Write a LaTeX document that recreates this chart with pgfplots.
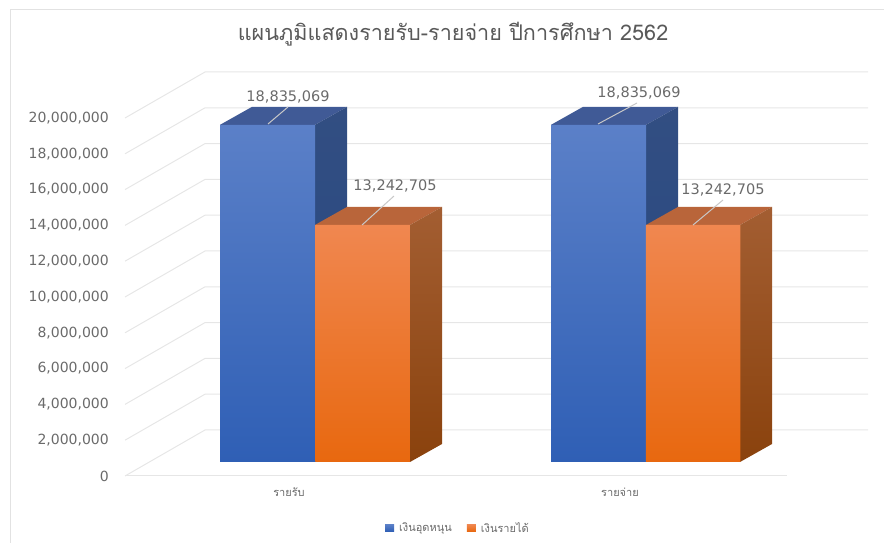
\documentclass[border=0pt]{standalone}
\usepackage{fontspec}
\usepackage{pgfplots}
\pgfplotsset{compat=1.18}
\setmainfont{DejaVu Sans}
\newfontfamily\thaifont[Script=Thai]{Loma}
\definecolor{gridc}{HTML}{E6E6E6}
\definecolor{framec}{HTML}{E2E2E2}
\definecolor{txtc}{HTML}{6A6A6A}
\definecolor{titlec}{HTML}{595959}
\definecolor{legblue}{HTML}{3F6CBE}
\definecolor{legorange}{HTML}{EE7A26}
\pgfplotsset{
  gl/.style={draw=gridc,line width=1pt,no marks,forget plot},
  bluefront/.style={ybar,bar shift=0pt,bar width=95,draw=none,
     top color={rgb,255:red,91;green,128;blue,200},middle color={rgb,255:red,64;green,110;blue,200},bottom color={rgb,255:red,47;green,95;blue,181},yshift=14pt},
  orangefront/.style={ybar,bar shift=0pt,bar width=94.5,draw=none,
     top color={rgb,255:red,240;green,135;blue,80},middle color={rgb,255:red,252;green,126;blue,42},bottom color={rgb,255:red,232;green,104;blue,15},yshift=14pt},
  blueside/.style={draw=none,no marks,forget plot,top color={rgb,255:red,50;green,78;blue,130},bottom color={rgb,255:red,38;green,72;blue,130},yshift=14pt},
  bluetop/.style={draw=none,fill={rgb,255:red,64;green,90;blue,150},no marks,forget plot,yshift=14pt},
  orangeside/.style={draw=none,no marks,forget plot,top color={rgb,255:red,163;green,94;blue,50},bottom color={rgb,255:red,138;green,66;blue,13},yshift=14pt},
  orangetop/.style={draw=none,fill={rgb,255:red,185;green,101;blue,58},no marks,forget plot,yshift=14pt},
}
\tikzset{
  leader/.style={draw={rgb,255:red,200;green,200;blue,200},line width=1pt},
  dlab/.style={font=\fontsize{14.5}{16}\selectfont,text=txtc,inner sep=0pt},
}
\begin{document}
\begin{tikzpicture}[x=1pt,y=1pt]
\path[use as bounding box] (0,0) rectangle (884,543);
\draw[framec,line width=1pt] (10,0)--(10,533.5)--(884,533.5);
\node[font=\thaifont\fontsize{21.6}{24}\selectfont,text=titlec,inner sep=0pt] at (453,509) {แผนภูมิแสดงรายรับ-รายจ่าย ปีการศึกษา 2562};
\begin{axis}[
  at={(125pt,67pt)},anchor=south west,
  scale only axis,width=743pt,height=404pt,
  xmin=125,xmax=868,ymin=0,ymax=22569832,
  clip=false,
  axis line style={draw=none},
  major tick length=0pt,
  scaled y ticks=false,
  ytick={0,2000000,4000000,6000000,8000000,10000000,12000000,14000000,16000000,18000000,20000000},
  yticklabel style={/pgf/number format/fixed,/pgf/number format/1000 sep={,},/pgf/number format/assume math mode=true,
     font=\fontsize{14}{16}\selectfont,text=txtc,inner sep=0pt,xshift=-16pt},
  xtick={289,620},
  xticklabels={{รายรับ},{รายจ่าย}},
  xticklabel style={font=\thaifont\fontsize{11}{12}\selectfont,text=txtc,inner sep=0pt,yshift=-12pt},
  legend columns=2,
  legend style={at={(axis cs:458,-2900000)},anchor=center,draw=none,fill=none,
     font=\thaifont\fontsize{11}{12}\selectfont,text=txtc,
     /tikz/every odd column/.append style={column sep=3pt},
     /tikz/every even column/.append style={column sep=13pt}},
]
% gridlines
\addplot[gl] coordinates {(125,0)(787,0)};
\addplot[gl] coordinates {(125,0)(205,2569832)(868,2569832)};
\addplot[gl] coordinates {(125,2000000)(205,4569832)(868,4569832)};
\addplot[gl] coordinates {(125,4000000)(205,6569832)(868,6569832)};
\addplot[gl] coordinates {(125,6000000)(205,8569832)(868,8569832)};
\addplot[gl] coordinates {(125,8000000)(205,10569832)(868,10569832)};
\addplot[gl] coordinates {(125,10000000)(205,12569832)(868,12569832)};
\addplot[gl] coordinates {(125,12000000)(205,14569832)(868,14569832)};
\addplot[gl] coordinates {(125,14000000)(205,16569832)(868,16569832)};
\addplot[gl] coordinates {(125,16000000)(205,18569832)(868,18569832)};
\addplot[gl] coordinates {(125,18000000)(205,20569832)(868,20569832)};
\addplot[gl] coordinates {(125,20000000)(205,22569832)(868,22569832)};
% blue bars: side and top faces
\addplot[bluetop] coordinates {(220,18835069)(315,18835069)(347,19840656)(252,19840656)} --cycle;
\addplot[blueside] coordinates {(315,0)(347,1005587)(347,19840656)(315,18835069)} --cycle;
\addplot[bluetop] coordinates {(551,18835069)(646,18835069)(678,19840656)(583,19840656)} --cycle;
\addplot[blueside] coordinates {(646,0)(678,1005587)(678,19840656)(646,18835069)} --cycle;
% orange bars: side and top faces
\addplot[orangetop] coordinates {(315,13242705)(410,13242705)(442,14248292)(347,14248292)} --cycle;
\addplot[orangeside] coordinates {(410,0)(442,1005587)(442,14248292)(410,13242705)} --cycle;
\addplot[orangetop] coordinates {(646,13242705)(740,13242705)(772,14248292)(678,14248292)} --cycle;
\addplot[orangeside] coordinates {(740,0)(772,1005587)(772,14248292)(740,13242705)} --cycle;
% front faces
\addplot[bluefront,legend image code/.code={\fill[legblue] (0pt,-17.5pt) rectangle (9pt,-10.5pt);}] coordinates {(267.5,18835069)(598.5,18835069)};
\addlegendentry{เงินอุดหนุน}
\addplot[orangefront,legend image code/.code={\fill[legorange] (0pt,-17.5pt) rectangle (9pt,-10.5pt);}] coordinates {(362.5,13242705)(693,13242705)};
\addlegendentry{เงินรายได้}
% leaders and data labels
\draw[leader] (axis cs:268,19665000)--(axis cs:288,20615000);
\draw[leader] (axis cs:598,19665000)--(axis cs:637,20838000);
\draw[leader] (axis cs:362,14022000)--(axis cs:394,15642000);
\draw[leader] (axis cs:693,14022000)--(axis cs:723,15419000);
\node[dlab] at (axis cs:288,21173000) {18,835,069};
\node[dlab] at (axis cs:639,21397000) {18,835,069};
\node[dlab] at (axis cs:395,16201000) {13,242,705};
\node[dlab] at (axis cs:723,15978000) {13,242,705};
\end{axis}
\end{tikzpicture}
\end{document}
